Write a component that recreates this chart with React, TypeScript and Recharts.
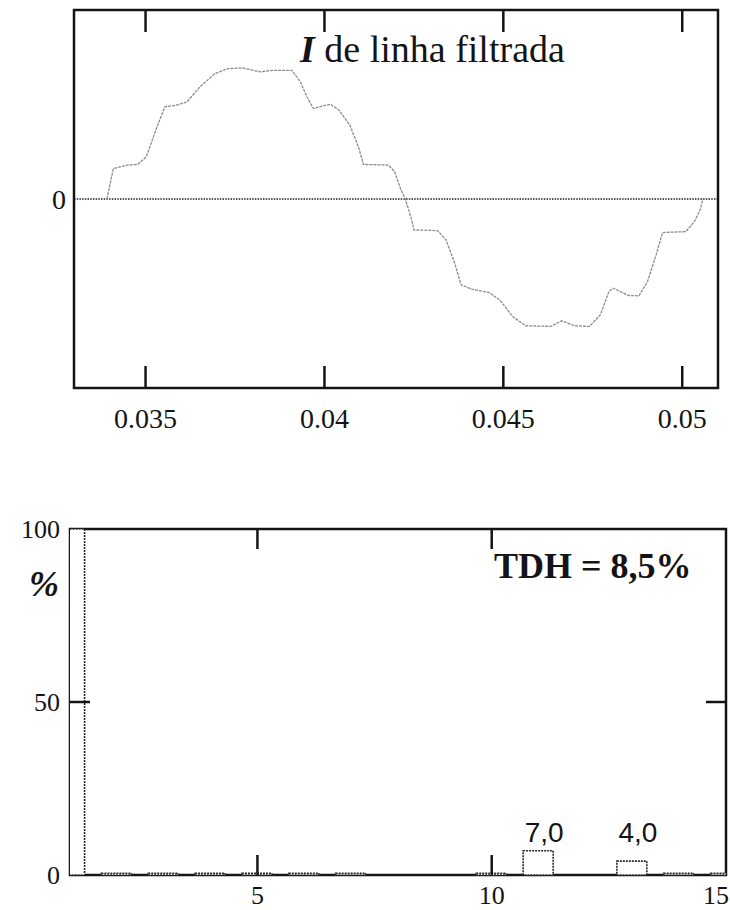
import React from "react";
import { Bar, BarChart, LabelList, Line, LineChart, ReferenceArea, ReferenceLine, XAxis, YAxis } from "recharts";

// --- filtered line current (one cycle, normalised to peak ~1) ---
const timeTicks = [0.035, 0.04, 0.045, 0.05];
const timeTickLabels = ["0.035", "0.04", "0.045", "0.05"];
const waveTime = [
  0.03392, 0.0341, 0.03448, 0.03478, 0.03502, 0.03532, 0.03554, 0.03586, 0.03616, 0.03652,
  0.03694, 0.0373, 0.03772, 0.0382, 0.03855, 0.03909, 0.03933, 0.03951, 0.03969, 0.03993,
  0.04017, 0.04041, 0.04071, 0.04095, 0.04109, 0.04179, 0.04196, 0.04214, 0.04226, 0.04244,
  0.0425, 0.04316, 0.0434, 0.04364, 0.04382, 0.04412, 0.0446, 0.0449, 0.04526, 0.04562,
  0.04633, 0.04663, 0.04699, 0.04741, 0.04771, 0.04795, 0.04807, 0.04849, 0.04879, 0.04903,
  0.04927, 0.04945, 0.0501, 0.05034, 0.0505, 0.05058,
];
const waveValue = [
  0, 0.235, 0.26, 0.266, 0.325, 0.555, 0.709, 0.722, 0.747, 0.863,
  0.965, 1.003, 1.008, 0.978, 0.99, 0.99, 0.9, 0.786, 0.696, 0.714,
  0.729, 0.683, 0.568, 0.402, 0.266, 0.261, 0.21, 0.069, 0, -0.161,
  -0.238, -0.243, -0.315, -0.494, -0.66, -0.694, -0.719, -0.776, -0.904, -0.975,
  -0.98, -0.937, -0.975, -0.98, -0.891, -0.712, -0.686, -0.742, -0.745, -0.635,
  -0.43, -0.258, -0.251, -0.174, -0.084, 0,
];

// --- harmonic spectrum (% of fundamental) ---
const harmonics = [1, 2, 3, 4, 5, 6, 7, 8, 9, 10, 11, 12, 13, 14, 15];
const harmonicPct = [100, 0.5, 0.5, 0.5, 0.5, 0.5, 0.5, 0, 0, 0.5, 7.0, 0, 4.0, 0.5, 0.5];
const harmonicLabels = ["", "", "", "", "", "", "", "", "", "", "7,0", "", "4,0", "", ""];
const harmonicTicks = [5, 10, 15];
const pctTicks = [0, 50, 100];

const waveData = waveTime.map((t, i) => ({ t, v: waveValue[i] }));
const specData = harmonics.map((h, i) => ({ h, p: harmonicPct[i], lab: harmonicLabels[i] }));

const SERIF = '"Liberation Serif", "Times New Roman", serif';
const SANS = '"Liberation Sans", Arial, sans-serif';
const INK = "#141414";

// plot box sizes, used to mirror the inward ticks onto the opposite frame side
const TOP_W = 644;
const TOP_H = 378;
const BOT_W = 656;
const BOT_H = 346;

type Side = "bottom" | "left";

// inward tick marks on both frame sides, plus the label outside
function tickFn(side: Side, len: number, inner: number[], span: number, label?: (v: number) => string, gap = 0, size = 26) {
  return (p: any) => {
    const { x, y } = p;
    const v = p.payload.value;
    const marks = inner.includes(v);
    const txt = label ? label(v) : "";
    if (side === "bottom") {
      const last = v === 15;
      return (
        <g>
          {marks && <line x1={x} y1={y} x2={x} y2={y - len} stroke={INK} strokeWidth={2.5} />}
          {marks && <line x1={x} y1={y - span} x2={x} y2={y - span + len} stroke={INK} strokeWidth={2.5} />}
          {txt && (
            <text x={last ? 729 : x} y={y + gap} textAnchor={last ? "end" : "middle"} fontFamily={SERIF} fontSize={size} fill={INK}>
              {txt}
            </text>
          )}
        </g>
      );
    }
    return (
      <g>
        {marks && <line x1={x} y1={y} x2={x + len} y2={y} stroke={INK} strokeWidth={2.5} />}
        {marks && <line x1={x + span} y1={y} x2={x + span - len} y2={y} stroke={INK} strokeWidth={2.5} />}
        {txt && (
          <text x={x - gap} y={y} dy="0.36em" textAnchor="end" fontFamily={SERIF} fontSize={size} fill={INK}>
            {txt}
          </text>
        )}
      </g>
    );
  };
}

function BarValue(p: any) {
  const { x, y, width, height, value } = p;
  if (!value) return null;
  return (
    <text x={x + width / 2 + 6} y={y + height - 33} textAnchor="middle" fontFamily={SANS} fontSize={28} fill={INK}>
      {value}
    </text>
  );
}

export default function App() {
  return (
    <div style={{ position: "absolute", left: 0, top: 0, width: 730, height: 910, background: "#fff" }}>
      <div style={{ position: "absolute", left: 0, top: 0 }}>
        <LineChart width={730} height={450} data={waveData} margin={{ top: 10, right: 12, bottom: 12, left: 14 }}>
          <XAxis
            type="number"
            dataKey="t"
            domain={[0.033, 0.051]}
            ticks={timeTicks}
            allowDataOverflow
            height={50}
            tickSize={0}
            tickMargin={0}
            axisLine={false}
            tick={tickFn("bottom", 22, timeTicks, TOP_H, (v) => timeTickLabels[timeTicks.indexOf(v)], 40, 28)}
          />
          <YAxis
            type="number"
            domain={[-1.454, 1.454]}
            ticks={[0]}
            allowDataOverflow
            width={60}
            tickSize={0}
            tickMargin={0}
            axisLine={false}
            tick={tickFn("left", 0, [], TOP_W, () => "0", 8, 28)}
          />
          <ReferenceLine y={0} stroke="#1e1e1e" strokeWidth={1.6} strokeDasharray="1.5 1.2" />
          <Line
            type="linear"
            dataKey="v"
            stroke="#8c8c8c"
            strokeWidth={1.3}
            strokeDasharray="3 1"
            dot={false}
            isAnimationActive={false}
          />
          <ReferenceArea x1={0.033} x2={0.051} y1={-1.454} y2={1.454} fill="none" fillOpacity={0} stroke={INK} strokeWidth={2.5} />
        </LineChart>
      </div>

      <div style={{ position: "absolute", left: 0, top: 470 }}>
        <BarChart width={730} height={440} data={specData} margin={{ top: 59, right: 4, bottom: 5, left: 10 }}>
          <XAxis
            type="number"
            dataKey="h"
            domain={[1, 15]}
            ticks={harmonicTicks}
            allowDataOverflow
            height={30}
            tickSize={0}
            tickMargin={0}
            axisLine={false}
            tick={tickFn("bottom", 20, [5, 10], BOT_H, (v) => String(v), 29, 26)}
          />
          <YAxis
            type="number"
            domain={[0, 100]}
            ticks={pctTicks}
            width={60}
            tickSize={0}
            tickMargin={0}
            axisLine={false}
            tick={tickFn("left", 20, [50], BOT_W, (v) => String(v), 10, 26)}
          />
          <Bar
            dataKey="p"
            barSize={30}
            fill="#fff"
            stroke="#2a2a2a"
            strokeWidth={1.6}
            strokeDasharray="2 1"
            isAnimationActive={false}
          >
            <LabelList dataKey="lab" content={BarValue} />
          </Bar>
          <ReferenceArea x1={1} x2={15} y1={0} y2={100} fill="none" fillOpacity={0} stroke={INK} strokeWidth={2.5} />
        </BarChart>
      </div>

      <svg width={730} height={910} style={{ position: "absolute", left: 0, top: 0, pointerEvents: "none" }}>
        <text x={300} y={62} fontFamily={SERIF} fontSize={38} fill={INK}>
          <tspan fontWeight="bold" fontStyle="italic">I</tspan> de linha filtrada
        </text>
        <text x={494} y={578} fontFamily={SERIF} fontSize={36} fontWeight="bold" fill={INK}>
          TDH = 8,5%
        </text>
        <text x={29} y={596} fontFamily={SERIF} fontSize={36} fontWeight="bold" fontStyle="italic" fill={INK}>
          %
        </text>
      </svg>
    </div>
  );
}
